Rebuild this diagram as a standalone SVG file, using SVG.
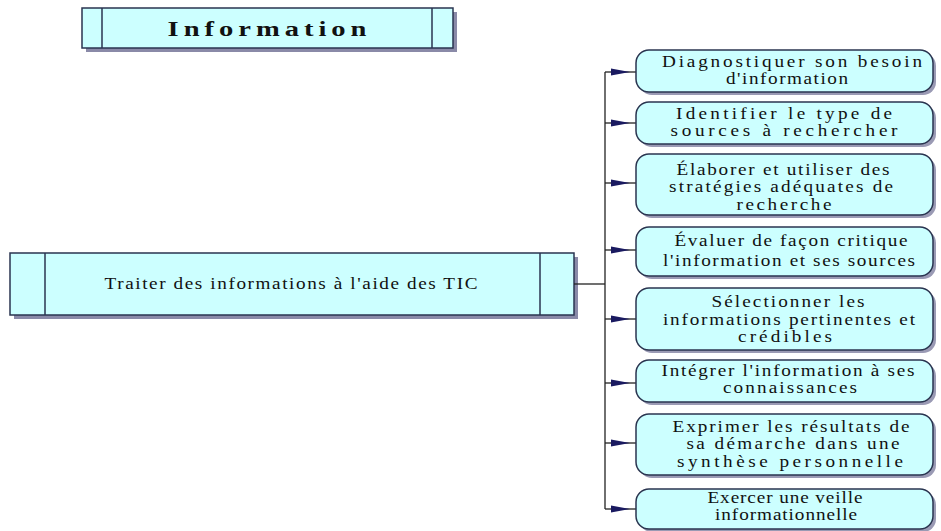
<svg xmlns="http://www.w3.org/2000/svg" width="941" height="531" viewBox="0 0 941 531">
<defs>
<style>
.sq{fill:#ccffff;stroke:#2a3550;stroke-width:1.5}
.shadow{fill:#8a8aa8}
.rb{fill:#ccffff;stroke:#2a3550;stroke-width:1.5}
.rbs{fill:#9a9ab4}
.t{font-family:"Liberation Serif","Times New Roman",serif;font-size:16px;fill:#111;text-anchor:middle}
.title{font-family:"Liberation Serif","Times New Roman",serif;font-size:22px;font-weight:bold;fill:#111;text-anchor:middle}
.con{stroke:#222;stroke-width:1.3;fill:none}
.ah{fill:#1a1a60}
</style>
</defs>
<rect width="941" height="531" fill="#ffffff"/>

<g id="title">
<rect class="shadow" x="86" y="12" width="371" height="40"/>
<rect class="sq" x="82" y="8" width="371" height="40"/>
<line class="sq" x1="102" y1="8" x2="102" y2="48"/>
<line class="sq" x1="432" y1="8" x2="432" y2="48"/>
<text class="title" transform="matrix(1.3 0 0 1 267 0)" x="0" y="36" textLength="153" lengthAdjust="spacing">Information</text>
</g>

<g id="main">
<rect class="shadow" x="14" y="257" width="564" height="62"/>
<rect class="sq" x="10" y="253" width="564" height="62"/>
<line class="sq" x1="45" y1="253" x2="45" y2="315"/>
<line class="sq" x1="540" y1="253" x2="540" y2="315"/>
<text class="t" transform="matrix(1.2 0 0 1 291 0)" x="0" y="289" textLength="310.8" lengthAdjust="spacing">Traiter des informations à l'aide  des TIC</text>
</g>

<g id="connectors">
<line class="con" x1="574" y1="284" x2="605" y2="284"/>
<line class="con" x1="605" y1="72" x2="605" y2="509"/>
<line class="con" x1="605" y1="72" x2="636" y2="72"/>
<polygon class="ah" points="611,68.5 630,72 611,75.5"/>
<line class="con" x1="605" y1="123" x2="636" y2="123"/>
<polygon class="ah" points="611,119.5 630,123 611,126.5"/>
<line class="con" x1="605" y1="183" x2="636" y2="183"/>
<polygon class="ah" points="611,179.5 630,183 611,186.5"/>
<line class="con" x1="605" y1="250" x2="636" y2="250"/>
<polygon class="ah" points="611,246.5 630,250 611,253.5"/>
<line class="con" x1="605" y1="319" x2="636" y2="319"/>
<polygon class="ah" points="611,315.5 630,319 611,322.5"/>
<line class="con" x1="605" y1="383" x2="636" y2="383"/>
<polygon class="ah" points="611,379.5 630,383 611,386.5"/>
<line class="con" x1="605" y1="443" x2="636" y2="443"/>
<polygon class="ah" points="611,439.5 630,443 611,446.5"/>
<line class="con" x1="605" y1="509" x2="636" y2="509"/>
<polygon class="ah" points="611,505.5 630,509 611,512.5"/>
</g>

<g id="n1">
<rect class="rbs" x="639" y="53" width="297" height="42" rx="13"/>
<rect class="rb" x="636" y="50" width="297" height="42" rx="13"/>
<text class="t" transform="matrix(1.2 0 0 1 792 0)" x="0" y="67" textLength="216.7" lengthAdjust="spacing">Diagnostiquer son besoin</text>
<text class="t" transform="matrix(1.2 0 0 1 787 0)" x="0" y="84" textLength="101.7" lengthAdjust="spacing">d'information</text>
</g>

<g id="n2">
<rect class="rbs" x="639" y="105" width="297" height="42" rx="13"/>
<rect class="rb" x="636" y="102" width="297" height="42" rx="13"/>
<text class="t" transform="matrix(1.2 0 0 1 784 0)" x="0" y="119" textLength="180" lengthAdjust="spacing">Identifier le type de</text>
<text class="t" transform="matrix(1.2 0 0 1 784 0)" x="0" y="136" textLength="189.2" lengthAdjust="spacing">sources à rechercher</text>
</g>

<g id="n3">
<rect class="rbs" x="639" y="157" width="297" height="61" rx="13"/>
<rect class="rb" x="636" y="154" width="297" height="61" rx="13"/>
<text class="t" transform="matrix(1.2 0 0 1 783 0)" x="0" y="175" textLength="177.5" lengthAdjust="spacing">Élaborer et utiliser des</text>
<text class="t" transform="matrix(1.2 0 0 1 781 0)" x="0" y="192" textLength="186.7" lengthAdjust="spacing">stratégies adéquates de</text>
<text class="t" transform="matrix(1.2 0 0 1 784 0)" x="0" y="210" textLength="79.2" lengthAdjust="spacing">recherche</text>
</g>

<g id="n4">
<rect class="rbs" x="639" y="230" width="297" height="49" rx="13"/>
<rect class="rb" x="636" y="227" width="297" height="49" rx="13"/>
<text class="t" transform="matrix(1.2 0 0 1 791 0)" x="0" y="246" textLength="194.2" lengthAdjust="spacing">Évaluer de façon critique</text>
<text class="t" transform="matrix(1.2 0 0 1 789 0)" x="0" y="266" textLength="210" lengthAdjust="spacing">l'information et ses sources</text>
</g>

<g id="n5">
<rect class="rbs" x="639" y="291" width="297" height="62" rx="13"/>
<rect class="rb" x="636" y="288" width="297" height="62" rx="13"/>
<text class="t" transform="matrix(1.2 0 0 1 788 0)" x="0" y="307" textLength="127.5" lengthAdjust="spacing">Sélectionner les</text>
<text class="t" transform="matrix(1.2 0 0 1 789 0)" x="0" y="325" textLength="210" lengthAdjust="spacing">informations pertinentes et</text>
<text class="t" transform="matrix(1.2 0 0 1 785 0)" x="0" y="342" textLength="78.3" lengthAdjust="spacing">crédibles</text>
</g>

<g id="n6">
<rect class="rbs" x="639" y="363" width="297" height="42" rx="13"/>
<rect class="rb" x="636" y="360" width="297" height="42" rx="13"/>
<text class="t" transform="matrix(1.2 0 0 1 788 0)" x="0" y="376" textLength="210.8" lengthAdjust="spacing">Intégrer l'information à ses</text>
<text class="t" transform="matrix(1.2 0 0 1 790 0)" x="0" y="393" textLength="111.7" lengthAdjust="spacing">connaissances</text>
</g>

<g id="n7">
<rect class="rbs" x="639" y="417" width="297" height="61" rx="13"/>
<rect class="rb" x="636" y="414" width="297" height="61" rx="13"/>
<text class="t" transform="matrix(1.2 0 0 1 791 0)" x="0" y="432" textLength="197.5" lengthAdjust="spacing">Exprimer les résultats de</text>
<text class="t" transform="matrix(1.2 0 0 1 793 0)" x="0" y="449" textLength="177.5" lengthAdjust="spacing">sa démarche dans une</text>
<text class="t" transform="matrix(1.2 0 0 1 790 0)" x="0" y="467" textLength="188.3" lengthAdjust="spacing">synthèse personnelle</text>
</g>

<g id="n8">
<rect class="rbs" x="639" y="492" width="297" height="40" rx="13"/>
<rect class="rb" x="636" y="489" width="297" height="40" rx="13"/>
<text class="t" transform="matrix(1.2 0 0 1 785 0)" x="0" y="503" textLength="129.2" lengthAdjust="spacing">Exercer une veille</text>
<text class="t" transform="matrix(1.2 0 0 1 786 0)" x="0" y="520" textLength="118.3" lengthAdjust="spacing">informationnelle</text>
</g>
</svg>
